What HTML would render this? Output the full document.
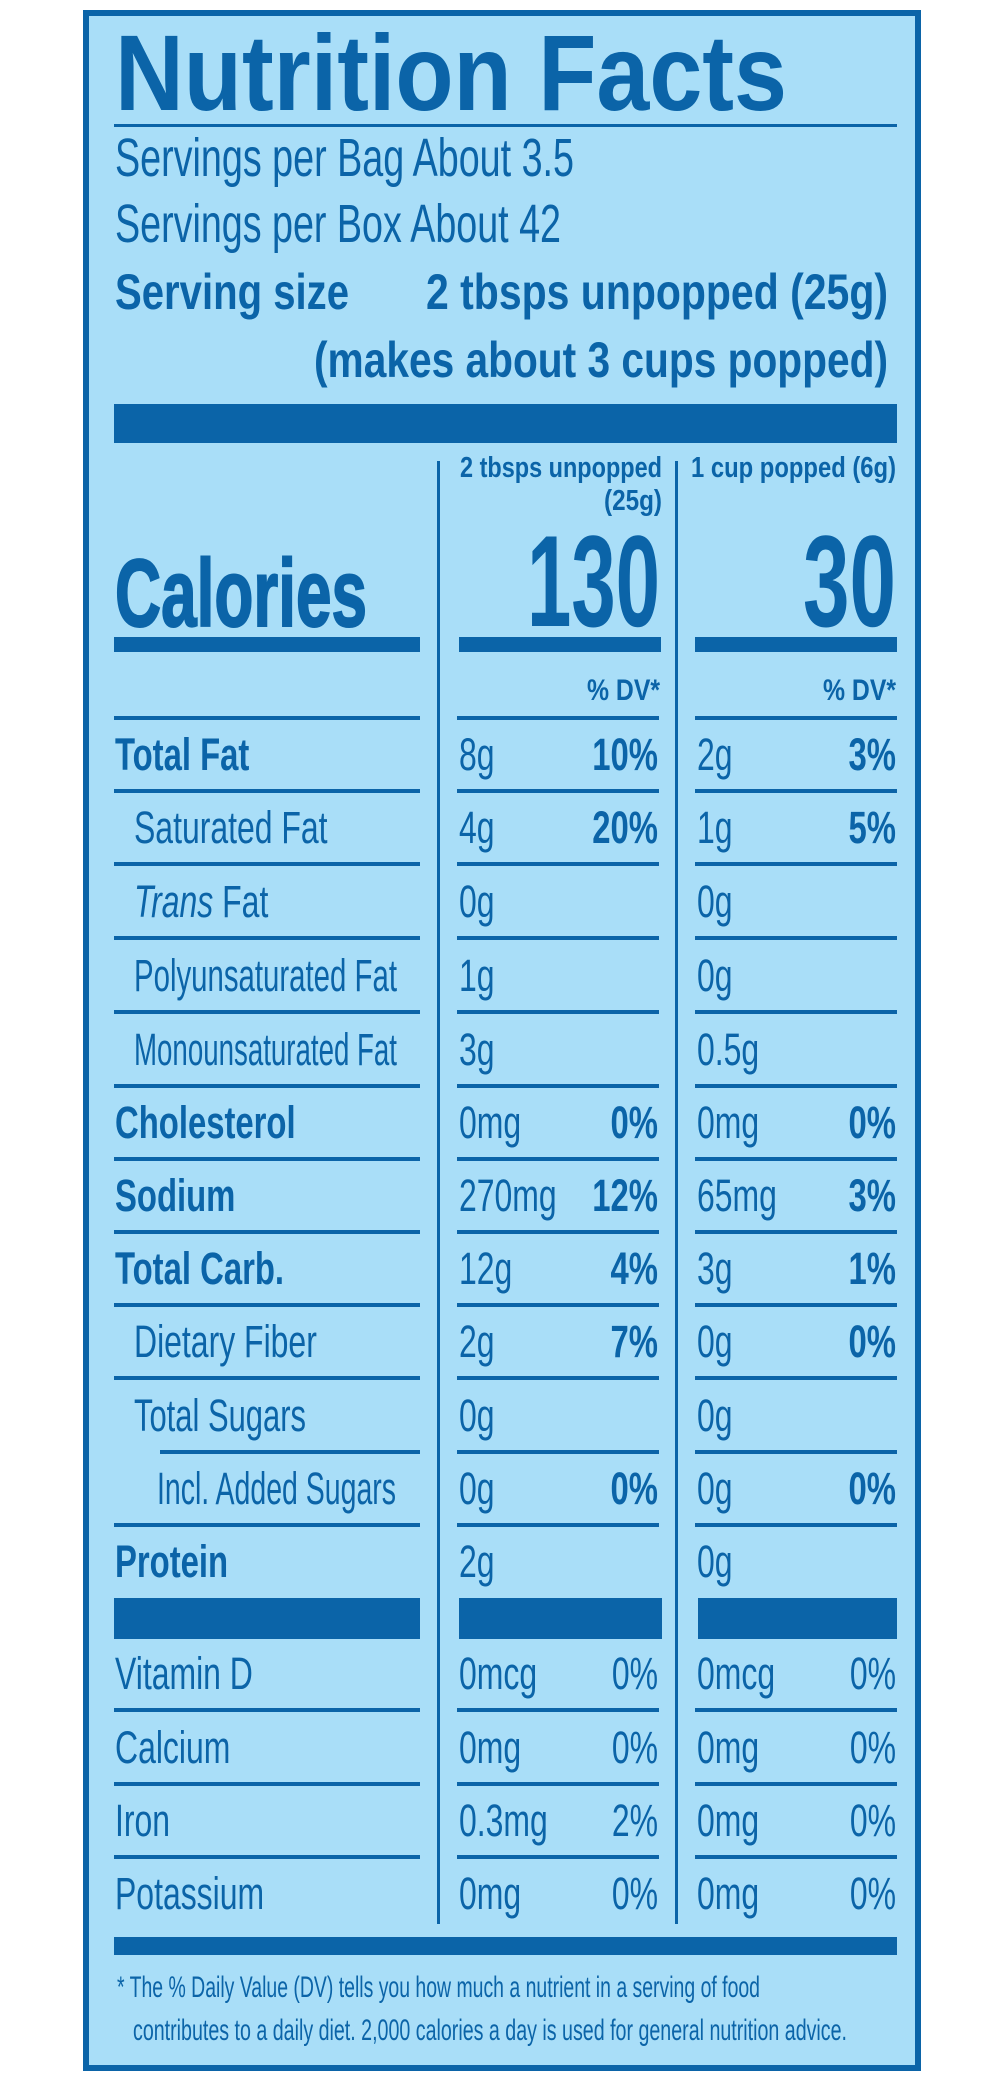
<!DOCTYPE html>
<html><head><meta charset="utf-8"><style>
html,body{margin:0;padding:0;background:#fff;}
svg{display:block;}
text{font-family:"Liberation Sans",Arial,sans-serif;fill:#0b64a8;}
.b{font-weight:bold;}
</style></head><body>
<svg width="1000" height="2073" viewBox="0 0 1000 2073" xmlns="http://www.w3.org/2000/svg">
<rect x="86" y="13" width="832" height="2055" fill="#a9def8" stroke="#0b64a8" stroke-width="6"/>
<g fill="#0b64a8">
<text class="b" x="115" y="110" font-size="108" textLength="672" lengthAdjust="spacingAndGlyphs">Nutrition Facts</text>
<rect x="114" y="124" width="783" height="3"/>
<text x="115" y="176" font-size="54" textLength="459" lengthAdjust="spacingAndGlyphs">Servings per Bag About 3.5</text>
<text x="115" y="242" font-size="54" textLength="446" lengthAdjust="spacingAndGlyphs">Servings per Box About 42</text>
<text class="b" x="115" y="309" font-size="50" textLength="234" lengthAdjust="spacingAndGlyphs">Serving size</text>
<text class="b" x="426" y="309" font-size="50" textLength="462" lengthAdjust="spacingAndGlyphs">2 tbsps unpopped (25g)</text>
<text class="b" x="314" y="377" font-size="50" textLength="574" lengthAdjust="spacingAndGlyphs">(makes about 3 cups popped)</text>
<rect x="114" y="404" width="783" height="39"/>
<rect x="437" y="461" width="3" height="1463"/>
<rect x="675" y="461" width="3" height="1463"/>
<text class="b" x="460" y="477" font-size="29" textLength="202" lengthAdjust="spacingAndGlyphs">2 tbsps unpopped</text>
<text class="b" x="604" y="510" font-size="29" textLength="58" lengthAdjust="spacingAndGlyphs">(25g)</text>
<text class="b" x="691" y="477" font-size="29" textLength="205" lengthAdjust="spacingAndGlyphs">1 cup popped (6g)</text>
<text class="b" x="115" y="626" font-size="96" textLength="252" lengthAdjust="spacingAndGlyphs" stroke="#0b64a8" stroke-width="2">Calories</text>
<text class="b" x="527" y="626" font-size="130" textLength="133" lengthAdjust="spacingAndGlyphs">130</text>
<text class="b" x="803" y="626" font-size="130" textLength="93" lengthAdjust="spacingAndGlyphs">30</text>
<rect x="114" y="637" width="306" height="15"/>
<rect x="459" y="637" width="202" height="15"/>
<rect x="695" y="637" width="202" height="15"/>
<text class="b" x="587" y="700" font-size="30" textLength="73" lengthAdjust="spacingAndGlyphs">% DV*</text>
<text class="b" x="823" y="700" font-size="30" textLength="73" lengthAdjust="spacingAndGlyphs">% DV*</text>
</g>
<g id="rows"></g>
<g fill="#0b64a8">
<rect x="114" y="1598" width="306" height="41"/>
<rect x="459" y="1598" width="203" height="41"/>
<rect x="698" y="1598" width="199" height="41"/>
<rect x="114" y="1937" width="783" height="18"/>
<text x="117" y="1997" font-size="30" textLength="643" lengthAdjust="spacingAndGlyphs">* The % Daily Value (DV) tells you how much a nutrient in a serving of food</text>
<text x="133" y="2040" font-size="30" textLength="714" lengthAdjust="spacingAndGlyphs">contributes to a daily diet. 2,000 calories a day is used for general nutrition advice.</text>
</g>
</svg>
<script>
var rows=[
["Total Fat",1,115,"8g","10%","2g","3%",0],
["Saturated Fat",0,134,"4g","20%","1g","5%",0],
["<tspan font-style='italic'>Trans</tspan> Fat",0,134,"0g","","0g","",0],
["Polyunsaturated Fat",0,134,"1g","","0g","",263],
["Monounsaturated Fat",0,134,"3g","","0.5g","",263],
["Cholesterol",1,115,"0mg","0%","0mg","0%",0],
["Sodium",1,115,"270mg","12%","65mg","3%",0],
["Total Carb.",1,115,"12g","4%","3g","1%",0],
["Dietary Fiber",0,134,"2g","7%","0g","0%",0],
["Total Sugars",0,134,"0g","","0g","",172],
["Incl. Added Sugars",0,157,"0g","0%","0g","0%",239],
["Protein",1,115,"2g","","0g","",0]
];
var vit=[["Vitamin D","0mcg","0%","0mcg","0%"],["Calcium","0mg","0%","0mg","0%"],["Iron","0.3mg","2%","0mg","0%"],["Potassium","0mg","0%","0mg","0%"]];
var s="";
function line(y,x0){s+='<rect x="'+x0+'" y="'+(y-2)+'" width="'+(420-x0)+'" height="4" fill="#0b64a8"/><rect x="457" y="'+(y-2)+'" width="202" height="4" fill="#0b64a8"/><rect x="695" y="'+(y-2)+'" width="202" height="4" fill="#0b64a8"/>';}
function t(x,y,txt,bold,anchor,w){var sc=bold?0.73:0.71;
 if(w){s+='<text x="'+x+'" y="'+y+'" font-size="45" textLength="'+w+'" lengthAdjust="spacingAndGlyphs">'+txt+'</text>';return;}
 s+='<text transform="translate('+x+','+y+') scale('+sc+',1)" font-size="45"'+(bold?' font-weight="bold"':'')+(anchor?' text-anchor="end"':'')+'>'+txt+'</text>';}
var L=[718,791,864,938,1012,1086,1159,1232,1305,1378,1452,1525];
line(718,114);
for(var i=0;i<rows.length;i++){
 var r=rows[i];var yb=(i<11?L[i+1]:1598)-21;
 if(i<11)line(L[i+1],i==9?160:114);
 t(r[2],yb,r[0],r[1],0,r[7]);
 t(459,yb,r[3],0);if(r[4])t(658,yb,r[4],1,1);
 t(697,yb,r[5],0);if(r[6])t(896,yb,r[6],1,1);
}
var V=[1638,1710,1784,1857,1930];
for(var j=0;j<4;j++){var yb=V[j+1]-21;if(j<3)line(V[j+1],114);
 t(115,yb,vit[j][0],0);t(459,yb,vit[j][1],0);t(658,yb,vit[j][2],0,1);t(697,yb,vit[j][3],0);t(896,yb,vit[j][4],0,1);}
document.getElementById("rows").innerHTML=s;
</script>
</body></html>
